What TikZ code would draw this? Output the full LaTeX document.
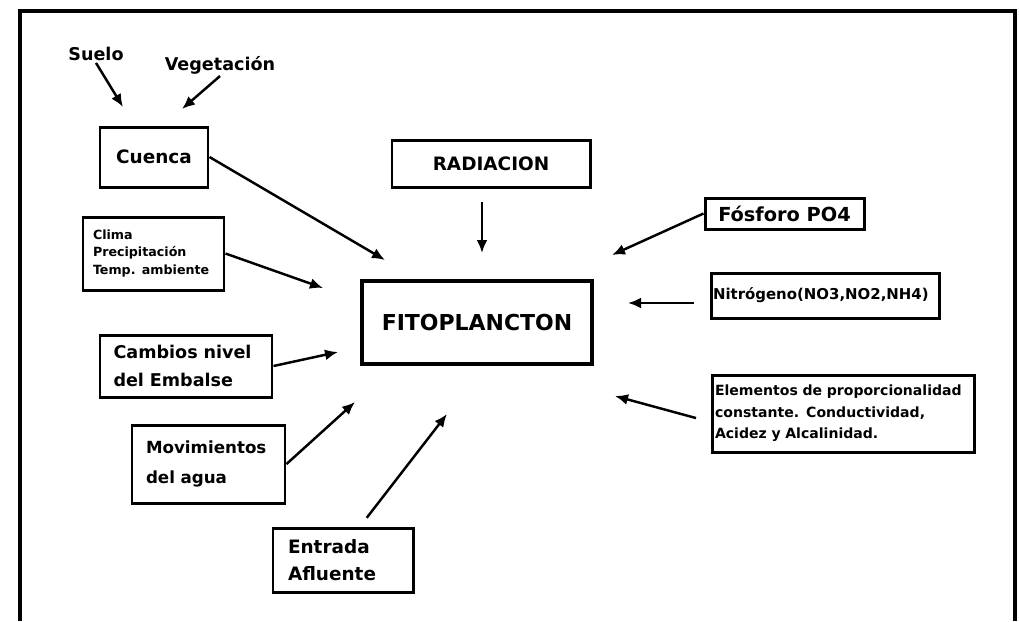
\documentclass[tikz,border=0pt]{standalone}
\usepackage{fontspec}
\setmainfont{DejaVu Sans}
\usetikzlibrary{arrows.meta}

\begin{document}
\begin{tikzpicture}[
    x=0.2mm, y=-0.2mm,
    caja/.style={draw, line width=1.7pt, inner ysep=0pt, align=left, font=\bfseries\fontsize{10.5}{16}\selectfont},
    libre/.style={inner sep=1pt, font=\bfseries\fontsize{10}{12}\selectfont},
    flecha/.style={-{Latex[length=2.6mm, width=2.2mm]}, line width=1.4pt}
]
    \useasboundingbox (0,0) rectangle (1019,621);
    \draw[line width=2.3pt] (20,621) -- (20,11) -- (1015,11) -- (1015,621);

    \node[libre] (suelo) at (96,54) {Suelo};
    \node[libre] (vegetacion) at (220,65) {Vegetación};
    \node[caja, align=center, minimum width=21.6mm, minimum height=12mm] (cuenca) at (154,157) {Cuenca};
    \node[caja, align=center, minimum width=39.6mm, minimum height=9.4mm] (radiacion) at (491,163.5) {RADIACION};
    \node[caja, font=\bfseries\fontsize{7.2}{10}\selectfont, inner xsep=2mm, text width=24.2mm, minimum height=14.6mm] (clima) at (153.5,253.5) {Clima\\Precipitación\\Temp. ambiente};
    \node[caja, line width=2.8pt, align=center, minimum width=46mm, minimum height=16.6mm, font=\bfseries\fontsize{12.5}{15}\selectfont] (fito) at (477,322.5) {FITOPLANCTON};
    \node[caja, align=center, minimum width=31.8mm, minimum height=6.2mm, font=\bfseries\fontsize{11}{13}\selectfont] (fosforo) at (784.5,213.5) {Fósforo PO4};
    \node[caja, font=\bfseries\fontsize{8.5}{10}\selectfont, inner xsep=0.4mm, text width=44.8mm, minimum height=9mm] (nitrogeno) at (825,295.5) {Nitrógeno(NO3,NO2,NH4)};
    \node[caja, font=\bfseries\fontsize{8}{12.3}\selectfont, inner xsep=0.6mm, text width=51.2mm, minimum height=15.4mm] (elementos) at (843,413.5) {Elementos de proporcionalidad\\constante. Conductividad,\\Acidez y Alcalinidad.};
    \node[caja, font=\bfseries\fontsize{10}{16}\selectfont, inner xsep=2.7mm, text width=29mm, minimum height=12.4mm] (cambios) at (186,366) {Cambios nivel\\del Embalse};
    \node[caja, font=\bfseries\fontsize{9.5}{17}\selectfont, inner xsep=2.8mm, text width=25mm, minimum height=15.6mm] (movimientos) at (208.5,464) {Movimientos\\del agua};
    \node[caja, font=\bfseries\fontsize{10.5}{15}\selectfont, inner xsep=3mm, text width=22mm, minimum height=12.8mm] (entrada) at (343,560) {Entrada\\Afluente};

    \coordinate (tsuelo) at (123,107);
    \coordinate (tvegetacion) at (182,109);
    \coordinate (tcuenca) at (385,260);
    \coordinate (tradiacion) at (482,253);
    \coordinate (tclima) at (323,288);
    \coordinate (tfosforo) at (612,255);
    \coordinate (tnitrogeno) at (628,303);
    \coordinate (telementos) at (615,396);
    \coordinate (tcambios) at (338,352);
    \coordinate (tmovimientos) at (355,402);
    \coordinate (tentrada) at (447,414);

    \draw[flecha] (suelo.south) -- (tsuelo);
    \draw[flecha] (vegetacion.south) -- (tvegetacion);
    \draw[flecha] (cuenca.east) -- (tcuenca);
    \draw[flecha, shorten <=2.6mm] (radiacion.south -| tradiacion) -- (tradiacion);
    \draw[flecha] (clima.east) -- (tclima);
    \draw[flecha] (fosforo.west) -- (tfosforo);
    \draw[flecha, shorten <=3.2mm] (nitrogeno.west |- tnitrogeno) -- (tnitrogeno);
    \draw[flecha, shorten <=3mm] ([yshift=-1.7mm]elementos.west) -- (telementos);
    \draw[flecha] (cambios.east) -- (tcambios);
    \draw[flecha] (movimientos.east) -- (tmovimientos);
    \draw[flecha, shorten <=2.2mm] ([xshift=3.4mm]entrada.north) -- (tentrada);
\end{tikzpicture}
\end{document}
